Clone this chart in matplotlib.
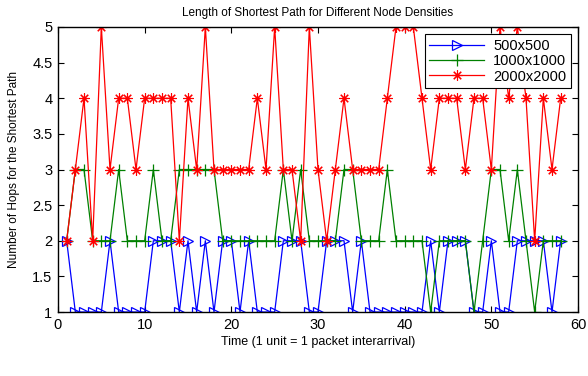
import numpy as np
import matplotlib
matplotlib.use("Agg")
import matplotlib.pyplot as plt

plt.rcParams['font.family'] = ['Liberation Sans', 'DejaVu Sans']

# time steps (1 unit = 1 packet interarrival)
t = list(range(1, 59))

# hop counts
hops_500 = [2, 1, 1, 1, 1, 2, 1, 1, 1, 1, 2, 2, 2, 1, 2, 1, 2, 1, 2, 2,
            1, 2, 1, 1, 1, 2, 2, 2, 1, 1, 2, 2, 2, 1, 2, 1, 1, 1, 1, 1,
            1, 1, 2, 1, 2, 2, 2, 1, 1, 2, 1, 1, 2, 2, 2, 2, 1, 2]
hops_1000 = [2, 3, 3, 2, 2, 2, 3, 2, 2, 2, 3, 2, 2, 3, 3, 3, 3, 3, 2, 2,
             2, 2, 2, 2, 2, 3, 2, 3, 2, 2, 2, 2, 3, 3, 2, 2, 2, 3, 2, 2,
             2, 2, 1, 2, 2, 2, 2, 1, 2, 3, 3, 2, 3, 2, 1, 2, 2, 2]
hops_2000 = [2, 3, 4, 2, 5, 3, 4, 4, 3, 4, 4, 4, 4, 2, 4, 3, 5, 3, 3, 3,
             3, 3, 4, 3, 5, 3, 3, 2, 5, 3, 2, 3, 4, 3, 3, 3, 3, 4, 5, 5,
             5, 4, 3, 4, 4, 4, 3, 4, 4, 3, 5, 4, 5, 4, 2, 4, 3, 4]

labels = ['500x500', '1000x1000', '2000x2000']

fig = plt.figure(figsize=(5.88, 3.76), dpi=100)
ax = fig.add_axes([58 / 588, 1 - 312 / 376, 520 / 588, 285 / 376])

ax.plot(t, hops_500, color='blue', lw=0.9, marker='>', ms=7.5,
        mfc='none', mec='blue', mew=0.9, label=labels[0])
ax.plot(t, hops_1000, color='green', lw=0.9, marker='+', ms=8,
        mew=0.9, label=labels[1])
# matlab style asterisk: + and x on top of each other
ax.plot(t, hops_2000, color='red', lw=0.9, marker=(8, 2, 0), ms=7.5,
        mew=0.8, label=labels[2])

ax.set_xlim(0, 60)
ax.set_ylim(1, 5)
ax.set_xticks(np.arange(0, 61, 10))
ax.set_yticks(np.arange(1, 5.01, 0.5))
ax.set_yticklabels(['1', '1.5', '2', '2.5', '3', '3.5', '4', '4.5', '5'])
ax.tick_params(direction='in', top=True, right=True, labelsize=10.5,
               length=4, width=0.8, pad=4)
for s in ax.spines.values():
    s.set_linewidth(1.0)

ax.set_title('Length of Shortest Path for Different Node Densities',
             fontsize=8.5, pad=8)
ax.set_xlabel('Time (1 unit = 1 packet interarrival)', fontsize=9, labelpad=3)
ax.set_ylabel('Number of Hops for the Shortest Path', fontsize=8.5, labelpad=9)

leg = ax.legend(loc='upper right', fontsize=10.5, fancybox=False,
                framealpha=1, edgecolor='black', borderaxespad=0.5,
                handlelength=3.8, labelspacing=0.1, borderpad=0.3,
                handletextpad=0.6)
leg.get_frame().set_linewidth(0.8)

fig.savefig('out.png', dpi=100)
